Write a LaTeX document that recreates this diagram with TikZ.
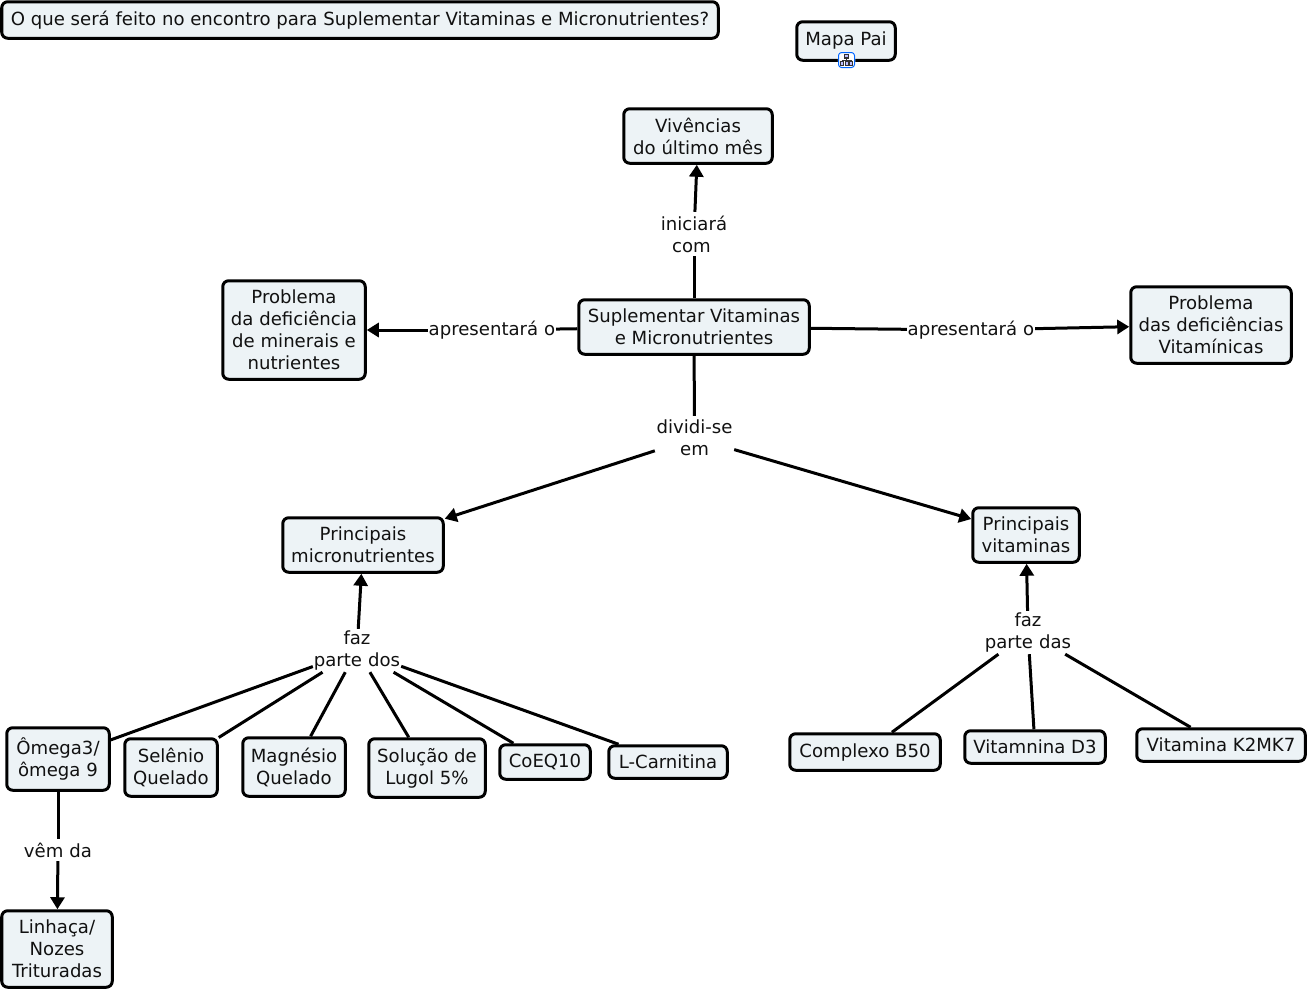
\documentclass[tikz,border=0pt]{standalone}
\usepackage{fontspec}
\setmainfont{DejaVu Sans}
\usetikzlibrary{arrows.meta}
\definecolor{boxfill}{HTML}{EDF3F6}
\definecolor{ink}{HTML}{111111}
\tikzset{
  cbox/.style={draw=black,line width=3pt,rounded corners=6pt,fill=boxfill,align=center,inner sep=0pt,text=ink,font=\fontsize{18.1}{22}\selectfont},
  lbl/.style={align=center,inner sep=0pt,text=ink,font=\fontsize{18.1}{22}\selectfont},
  link/.style={draw=black,line width=3pt},
  arrowlink/.style={link,-{Triangle[length=12pt,width=14pt]},shorten >=0pt}
}
\newcommand{\bx}[6]{%
  \pgfmathsetmacro{\cx}{(#2+#4)/2}\pgfmathsetmacro{\cy}{(#3+#5)/2}%
  \pgfmathsetmacro{\ww}{#4-#2-1.5}\pgfmathsetmacro{\hh}{#5-#3-1.5}%
  \node[cbox,minimum width=\ww pt,minimum height=\hh pt] (#1) at (\cx,\cy) {#6};}
\newcommand{\lb}[6]{%
  \pgfmathsetmacro{\cx}{(#2+#4)/2}\pgfmathsetmacro{\cy}{(#3+#5)/2}%
  \pgfmathsetmacro{\ww}{#4-#2}\pgfmathsetmacro{\hh}{#5-#3}%
  \node[lbl,minimum width=\ww pt,minimum height=\hh pt,text width=\ww pt] (#1) at (\cx,\cy) {#6};}
\begin{document}
\begin{tikzpicture}[x=1pt,y=-1pt]
\useasboundingbox (0,0) rectangle (1307,989);
\bx{title}{1}{1}{719}{39}{O que será feito no encontro para Suplementar Vitaminas e Micronutrientes?}
\bx{mapa}{796}{21}{896}{61}{\raisebox{3pt}{Mapa Pai}}
\bx{viv}{623}{108}{773}{164}{Vivências\\do último mês}
\bx{pmin}{222}{280}{366}{380}{Problema\\da deficiência\\de minerais e\\nutrientes}
\bx{sup}{578}{299}{810}{355}{Suplementar Vitaminas\\e Micronutrientes}
\bx{pvit}{1130}{286}{1292}{364}{Problema\\das deficiências\\Vitamínicas}
\bx{micro}{282}{517}{444}{573}{Principais\\micronutrientes}
\bx{vit}{972}{507}{1080}{563}{Principais\\vitaminas}
\bx{omega}{6}{727}{110}{791}{Ômega3/\\ômega 9}
\bx{sel}{124}{738}{218}{797}{Selênio\\Quelado}
\bx{mag}{242}{737}{346}{797}{Magnésio\\Quelado}
\bx{sol}{368}{738}{486}{798}{Solução de\\Lugol 5\%}
\bx{coe}{499}{744}{591}{780}{CoEQ10}
\bx{car}{608}{745}{728}{779}{L-Carnitina}
\bx{b50}{789}{733}{941}{771}{Complexo B50}
\bx{d3}{964}{730}{1106}{764}{Vitamnina D3}
\bx{k2}{1136}{728}{1306}{762}{Vitamina K2MK7}
\bx{lin}{1}{910}{113}{988}{Linhaça/\\Nozes\\Trituradas}
\lb{l1}{660}{212}{728}{256}{iniciará\\com\hspace*{5pt}}
\lb{l2}{428}{319}{556}{341}{apresentará o}
\lb{l3}{907}{319}{1035}{341}{apresentará o}
\lb{l4}{655}{416}{734}{460}{dividi-se\\em}
\lb{l5}{313}{629}{401}{672}{faz\\parte dos}
\lb{l6}{984}{611}{1072}{654}{faz\\parte das}
\lb{l7}{20}{839}{96}{861}{vêm da}
\draw[link] (sup.north -| l1) -- (l1);
\draw[arrowlink] (l1) -- (viv);
\draw[link] (sup) -- (l2);
\draw[arrowlink] (l2) -- (pmin);
\draw[link] (sup) -- (l3);
\draw[arrowlink] (l3) -- (pvit);
\draw[link] (sup) -- (l4);
\draw[arrowlink] (l4) -- (micro);
\draw[arrowlink] (l4) -- (vit);
\draw[arrowlink] (l5) -- (micro);
\draw[arrowlink] (l6) -- (vit);
\foreach \t in {omega,sel,mag,sol,coe,car} \draw[link] (l5) -- (\t);
\foreach \t in {b50,d3,k2} \draw[link] (l6) -- (\t);
\draw[link] (omega) -- (l7);
\draw[arrowlink] (l7) -- (lin);
% icon
\draw[draw=black!0,fill=white,rounded corners=2pt] (838,52) rectangle (855,68);
\draw[draw=blue!60!cyan,line width=1pt,rounded corners=3pt] (838.5,52.5) rectangle (854.5,67.5);
\draw[draw=black!80,line width=1.2pt,fill=blue!25] (844.5,54.5) rectangle (848.5,58);
\draw[draw=black!80,line width=1pt] (846.5,58) -- (846.5,60) (842,61) -- (842,60) -- (851,60) -- (851,61) (846.5,60) -- (846.5,61);
\draw[draw=black!80,line width=1pt,fill=blue!25] (840.5,61.5) rectangle (843.5,65.5) (845,61.5) rectangle (848,65.5) (849.5,61.5) rectangle (852.5,65.5);
\end{tikzpicture}
\end{document}
